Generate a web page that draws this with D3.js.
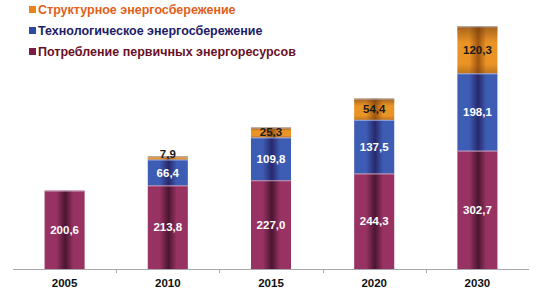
<!DOCTYPE html>
<html>
<head>
<meta charset="utf-8">
<script src="https://cdn.jsdelivr.net/npm/d3@7"></script>
<style>
  body { margin: 0; background: #fff; }
  svg { display: block; font-family: Arial, 'Liberation Sans', sans-serif; }
</style>
</head>
<body>
<div id="chart"></div>
<script>
// данные
const years = ['2005', '2010', '2015', '2020', '2030']
const primary = [200.6, 213.8, 227.0, 244.3, 302.7]
const techSaving = [0, 66.4, 109.8, 137.5, 198.1]
const structSaving = [0, 7.9, 25.3, 54.4, 120.3]
const seriesNames = ['Структурное энергосбережение', 'Технологическое энергосбережение', 'Потребление первичных энергоресурсов']

const width = 541
const height = 296

const svg = d3.select('#chart').append('svg')
  .attr('width', width)
  .attr('height', height)

const x = d3.scaleBand().domain(years).range([13, 529]).paddingInner(0.612).paddingOuter(0.306)
const y = d3.scaleLinear().domain([0, 640]).range([269, 19])

// градиенты (цилиндрическая заливка)
const defs = svg.append('defs')
const grads = [
  { id: 'gPrim', edge: '#983262', mid: '#4a1630' },
  { id: 'gTech', edge: '#3d5cb4', mid: '#28286c' },
  { id: 'gStruct', edge: '#eb9426', mid: '#a0560e' }
]
grads.forEach(g => {
  const lg = defs.append('linearGradient').attr('id', g.id).attr('x1', 0).attr('x2', 1).attr('y1', 0).attr('y2', 0)
  lg.append('stop').attr('offset', '0%').attr('stop-color', g.edge)
  lg.append('stop').attr('offset', '30%').attr('stop-color', g.edge)
  lg.append('stop').attr('offset', '52%').attr('stop-color', g.mid)
  lg.append('stop').attr('offset', '72%').attr('stop-color', g.edge)
  lg.append('stop').attr('offset', '100%').attr('stop-color', g.edge)
})
const lgv = defs.append('linearGradient').attr('id', 'gStructV').attr('x1', 0).attr('x2', 0).attr('y1', 0).attr('y2', 1)
lgv.append('stop').attr('offset', '0%').attr('stop-color', '#6a3a10').attr('stop-opacity', 0.55)
lgv.append('stop').attr('offset', '35%').attr('stop-color', '#6a3a10').attr('stop-opacity', 0)
lgv.append('stop').attr('offset', '80%').attr('stop-color', '#6a3a10').attr('stop-opacity', 0)
lgv.append('stop').attr('offset', '100%').attr('stop-color', '#6a3a10').attr('stop-opacity', 0.35)

const rows = years.map((yr, i) => ({ year: yr, vals: [primary[i], techSaving[i], structSaving[i]] }))
const fills = ['url(#gPrim)', 'url(#gTech)', 'url(#gStruct)']
const labelColors = ['#fff', '#fff', '#1a1a1a']

const segs = []
rows.forEach(r => {
  let base = 0
  r.vals.forEach((v, k) => {
    if (v > 0) segs.push({ year: r.year, k: k, v: v, y0: base, y1: base + v })
    base += v
  })
})

const bars = svg.append('g')
bars.selectAll('rect.seg')
  .data(segs)
  .enter()
  .append('rect')
  .attr('class', 'seg')
  .attr('x', d => x(d.year))
  .attr('width', x.bandwidth())
  .attr('y', d => y(d.y1))
  .attr('height', d => y(d.y0) - y(d.y1))
  .attr('fill', d => fills[d.k])

bars.selectAll('rect.shade')
  .data(segs.filter(d => d.k === 2))
  .enter()
  .append('rect')
  .attr('class', 'shade')
  .attr('x', d => x(d.year))
  .attr('width', x.bandwidth())
  .attr('y', d => y(d.y1))
  .attr('height', d => y(d.y0) - y(d.y1))
  .attr('fill', 'url(#gStructV)')

// светлые разделители
bars.selectAll('line.sep')
  .data(segs)
  .enter()
  .append('line')
  .attr('class', 'sep')
  .attr('x1', d => x(d.year))
  .attr('x2', d => x(d.year) + x.bandwidth())
  .attr('y1', d => y(d.y1) + 0.5)
  .attr('y2', d => y(d.y1) + 0.5)
  .style('stroke', d => d.k === 0 ? '#c8a0c0' : '#b0b8e0')
  .style('stroke-width', 1)
  .style('opacity', 0.8)

// подписи значений
bars.selectAll('text.val')
  .data(segs)
  .enter()
  .append('text')
  .attr('class', 'val')
  .attr('x', d => x(d.year) + x.bandwidth() / 2)
  .attr('y', d => {
    const mid = (y(d.y0) + y(d.y1)) / 2
    return d.v < 10 ? y(d.y1) + 2 : mid + 4
  })
  .attr('text-anchor', 'middle')
  .attr('font-size', 11.5)
  .attr('font-weight', 'bold')
  .attr('fill', d => labelColors[d.k])
  .text(d => d3.format('.1f')(d.v).replace('.', ','))

// ось X
const axis = svg.append('g').attr('transform', 'translate(0,269)')
  .call(d3.axisBottom(x).tickSize(0).tickPadding(10))
axis.select('.domain').attr('stroke', '#a8a8a8').attr('d', 'M13,0.5H529')
axis.selectAll('text').attr('font-size', 11.5).attr('font-weight', 'bold').attr('fill', '#111')
  .attr('font-family', 'Arial, Liberation Sans, sans-serif')
const step = x.step()
axis.selectAll('line.sepTick')
  .data(years.slice(1))
  .enter()
  .append('line')
  .attr('class', 'sepTick')
  .attr('x1', d => Math.round(x(d) - step * x.paddingInner() / 2) + 0.5)
  .attr('x2', d => Math.round(x(d) - step * x.paddingInner() / 2) + 0.5)
  .attr('y1', 0)
  .attr('y2', 4)
  .attr('stroke', '#a8a8a8')

// легенда
const legColors = ['#e8841e', '#3048a0', '#7a1e48']
const legText = ['#e0601a', '#1c2068', '#6a1026']
const leg = svg.append('g').attr('transform', 'translate(29,0)')
seriesNames.forEach((n, i) => {
  const gy = 10 + i * 21
  leg.append('rect').attr('x', 0).attr('y', gy - 4).attr('width', 7).attr('height', 7).attr('fill', legColors[i])
  leg.append('text').attr('x', 9).attr('y', gy + 4)
    .attr('font-size', 12.5).attr('font-weight', 'bold').attr('fill', legText[i]).text(n)
})
</script>
</body>
</html>
